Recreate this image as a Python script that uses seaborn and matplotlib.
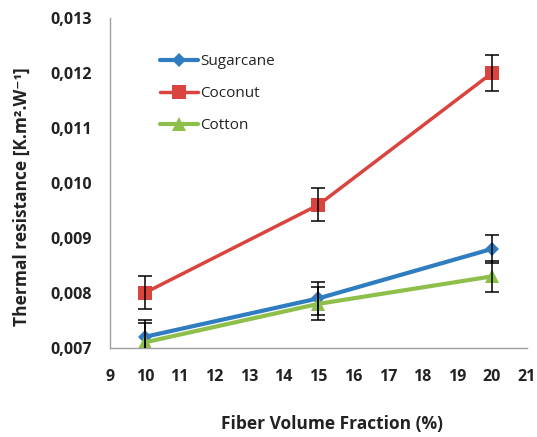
import matplotlib
matplotlib.use("Agg")
import matplotlib.pyplot as plt
import seaborn as sns
import pandas as pd
from matplotlib.ticker import FuncFormatter, MultipleLocator

fractions = [10, 15, 20]
sugarcane = [0.0072, 0.0079, 0.0088]
coconut = [0.0080, 0.0096, 0.0120]
cotton = [0.0071, 0.0078, 0.0083]
sugarcane_err = [0.00025, 0.0003, 0.00025]
coconut_err = [0.0003, 0.0003, 0.00033]
cotton_err = [0.0004, 0.0003, 0.00028]
series_names = ["Sugarcane", "Coconut", "Cotton"]

rows = []
for name, vals, errs in zip(series_names, [sugarcane, coconut, cotton],
                            [sugarcane_err, coconut_err, cotton_err]):
    for x, v, e in zip(fractions, vals, errs):
        rows.append({"Fraction": x, "Value": v, "Err": e, "Series": name})
df = pd.DataFrame(rows)

sns.set_theme(style="white")
plt.rcParams['font.family'] = ['Open Sans', 'DejaVu Sans']

colors = {"Sugarcane": "#2f7cc0", "Coconut": "#d9443f", "Cotton": "#8dbf4a"}
markers = {"Sugarcane": "D", "Coconut": "s", "Cotton": "^"}
lws = {"Sugarcane": 3.0, "Coconut": 2.5, "Cotton": 3.0}
msz = {"Sugarcane": 7, "Coconut": 10, "Cotton": 10}

fig = plt.figure(figsize=(5.37, 4.37), dpi=100)
ax = fig.add_axes([0.205, 0.204, 0.776, 0.755])

for name in series_names:
    sub = df[df["Series"] == name]
    sns.lineplot(data=sub, x="Fraction", y="Value", ax=ax, color=colors[name],
                 marker=markers[name], markersize=msz[name], markeredgewidth=0,
                 linewidth=lws[name], label=name, zorder=2)
for name in series_names:
    sub = df[df["Series"] == name]
    ax.errorbar(sub["Fraction"], sub["Value"], yerr=sub["Err"], fmt="none",
                ecolor="black", elinewidth=1.1, capsize=5, capthick=1.1, zorder=3)

ax.set_xlim(9, 21)
ax.set_ylim(0.007, 0.013)
ax.xaxis.set_major_locator(MultipleLocator(1))
ax.yaxis.set_major_locator(MultipleLocator(0.001))
ax.yaxis.set_major_formatter(FuncFormatter(lambda v, p: f"{v:.3f}".replace(".", ",")))

for s in ["top", "right"]:
    ax.spines[s].set_visible(False)
for s in ["left", "bottom"]:
    ax.spines[s].set_color("#a0a0a0")
    ax.spines[s].set_linewidth(1.0)
ax.tick_params(axis="both", direction="out", length=5, width=1, color="#a0a0a0",
               labelsize=11.5, labelcolor="#222222")
ax.tick_params(axis="y", pad=8)
ax.tick_params(axis="x", pad=10)
for lab in ax.get_xticklabels() + ax.get_yticklabels():
    lab.set_fontweight("bold")

ax.set_xlabel("Fiber Volume Fraction (%)", fontsize=12.5, fontweight="bold",
              color="#222222")
ax.xaxis.set_label_coords(0.532, -0.23)
ax.xaxis.label.set_va("center")
ax.set_ylabel("Thermal resistance [K.m².W⁻¹]", fontsize=12.5,
              fontweight="bold", color="#222222")
ax.yaxis.set_label_coords(-0.211, 0.458)
ax.yaxis.label.set_va("center")

leg = ax.legend(loc="center left", bbox_to_anchor=(0.12, 0.770), frameon=False,
                borderaxespad=0, borderpad=0,
                fontsize=11, handlelength=2.5, labelspacing=1.1, handletextpad=0.1)
for t in leg.get_texts():
    t.set_color("#222222")

fig.savefig("out.png", dpi=100)
